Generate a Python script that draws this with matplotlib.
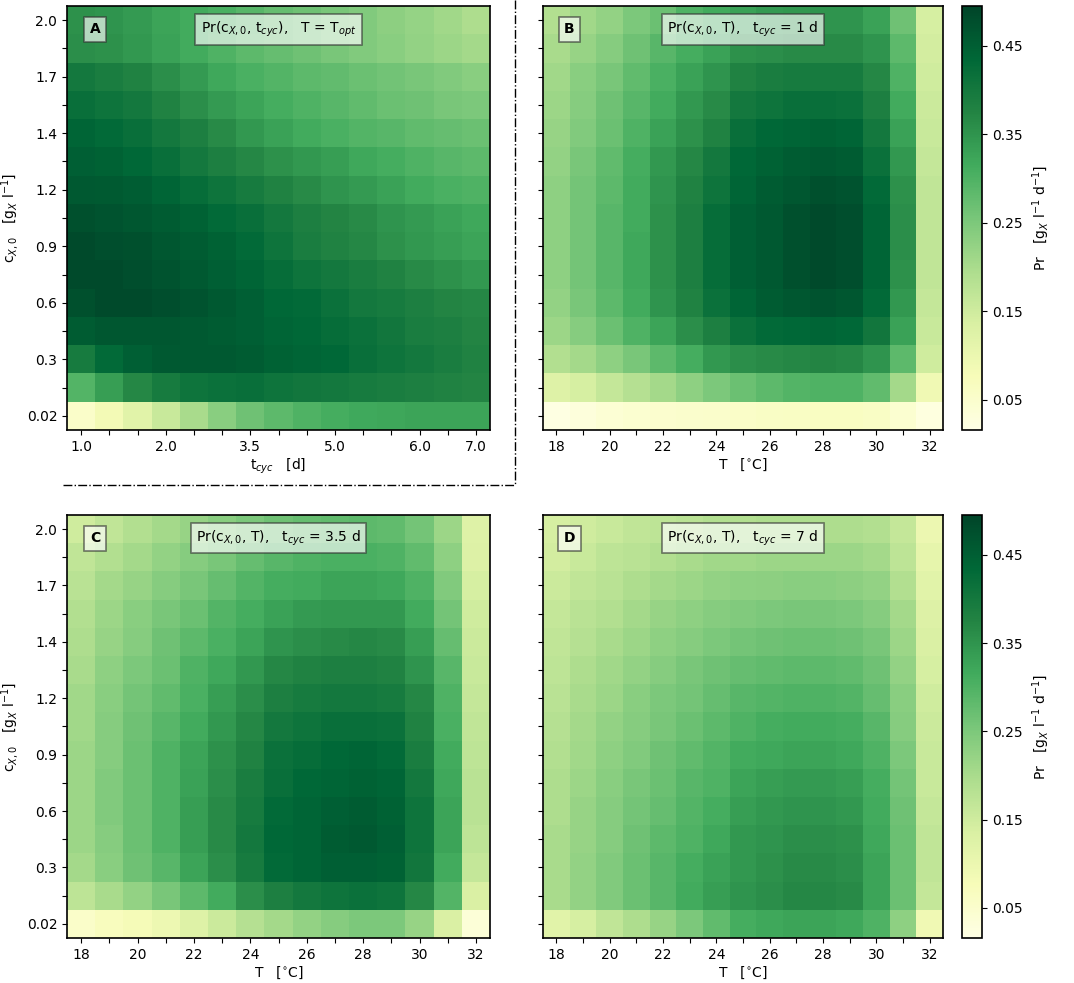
import matplotlib
matplotlib.use("Agg")
import matplotlib.pyplot as plt
import numpy as np
from matplotlib.lines import Line2D

# axis categories / tick labels
cx0_labels = ['0.02', '', '0.3', '', '0.6', '', '0.9', '', '1.2', '', '1.4', '', '1.7', '', '2.0']
tcyc_labels = ['1.0', '', '', '2.0', '', '', '3.5', '', '', '5.0', '', '', '6.0', '', '7.0']
temp_labels = ['18', '', '20', '', '22', '', '24', '', '26', '', '28', '', '30', '', '32']

# Pr values, rows = c_X,0 (bottom -> top), cols = t_cyc (A) or T (B, C, D)
pr_A = [
    [0.055, 0.085, 0.120, 0.160, 0.200, 0.235, 0.265, 0.285, 0.300, 0.310, 0.318, 0.322, 0.325, 0.325, 0.325],
    [0.295, 0.335, 0.370, 0.395, 0.410, 0.415, 0.420, 0.410, 0.405, 0.400, 0.395, 0.390, 0.385, 0.380, 0.375],
    [0.395, 0.430, 0.450, 0.460, 0.460, 0.460, 0.455, 0.445, 0.440, 0.435, 0.420, 0.410, 0.400, 0.390, 0.380],
    [0.455, 0.465, 0.465, 0.465, 0.460, 0.455, 0.450, 0.440, 0.435, 0.425, 0.415, 0.405, 0.390, 0.385, 0.375],
    [0.475, 0.485, 0.485, 0.480, 0.470, 0.460, 0.450, 0.435, 0.430, 0.415, 0.400, 0.395, 0.385, 0.375, 0.370],
    [0.485, 0.485, 0.480, 0.470, 0.460, 0.450, 0.440, 0.425, 0.410, 0.400, 0.390, 0.380, 0.365, 0.355, 0.345],
    [0.485, 0.480, 0.475, 0.465, 0.455, 0.445, 0.430, 0.410, 0.390, 0.380, 0.370, 0.355, 0.345, 0.335, 0.325],
    [0.475, 0.470, 0.465, 0.455, 0.445, 0.430, 0.420, 0.400, 0.385, 0.375, 0.365, 0.350, 0.340, 0.330, 0.320],
    [0.460, 0.458, 0.452, 0.440, 0.425, 0.410, 0.395, 0.380, 0.365, 0.350, 0.340, 0.330, 0.315, 0.305, 0.300],
    [0.450, 0.445, 0.435, 0.420, 0.400, 0.385, 0.370, 0.355, 0.345, 0.335, 0.320, 0.310, 0.300, 0.290, 0.285],
    [0.440, 0.430, 0.420, 0.400, 0.385, 0.365, 0.345, 0.330, 0.315, 0.305, 0.295, 0.290, 0.280, 0.275, 0.270],
    [0.420, 0.410, 0.400, 0.380, 0.360, 0.340, 0.325, 0.310, 0.300, 0.290, 0.280, 0.270, 0.265, 0.255, 0.250],
    [0.400, 0.390, 0.380, 0.360, 0.340, 0.320, 0.305, 0.295, 0.285, 0.278, 0.270, 0.262, 0.255, 0.245, 0.235],
    [0.360, 0.355, 0.345, 0.330, 0.315, 0.300, 0.285, 0.275, 0.265, 0.255, 0.245, 0.235, 0.225, 0.215, 0.205],
    [0.355, 0.350, 0.340, 0.325, 0.315, 0.305, 0.290, 0.275, 0.265, 0.255, 0.245, 0.233, 0.222, 0.210, 0.195],
]

pr_B = [
    [0.020, 0.030, 0.040, 0.045, 0.048, 0.050, 0.053, 0.056, 0.060, 0.062, 0.064, 0.064, 0.060, 0.045, 0.025],
    [0.125, 0.140, 0.165, 0.185, 0.205, 0.230, 0.250, 0.270, 0.285, 0.295, 0.300, 0.300, 0.280, 0.205, 0.090],
    [0.190, 0.205, 0.230, 0.255, 0.285, 0.310, 0.345, 0.360, 0.365, 0.370, 0.375, 0.370, 0.350, 0.285, 0.150],
    [0.215, 0.240, 0.270, 0.300, 0.325, 0.360, 0.385, 0.415, 0.430, 0.435, 0.440, 0.435, 0.405, 0.330, 0.160],
    [0.225, 0.255, 0.285, 0.315, 0.350, 0.380, 0.415, 0.440, 0.455, 0.465, 0.470, 0.465, 0.430, 0.345, 0.165],
    [0.230, 0.260, 0.290, 0.320, 0.355, 0.385, 0.425, 0.450, 0.460, 0.475, 0.485, 0.480, 0.440, 0.355, 0.170],
    [0.230, 0.260, 0.290, 0.320, 0.355, 0.385, 0.425, 0.450, 0.460, 0.475, 0.485, 0.480, 0.440, 0.360, 0.170],
    [0.230, 0.260, 0.290, 0.315, 0.355, 0.385, 0.425, 0.450, 0.460, 0.475, 0.485, 0.480, 0.440, 0.360, 0.170],
    [0.230, 0.260, 0.285, 0.315, 0.350, 0.380, 0.410, 0.440, 0.455, 0.465, 0.475, 0.470, 0.430, 0.355, 0.170],
    [0.225, 0.255, 0.280, 0.310, 0.345, 0.370, 0.400, 0.435, 0.445, 0.455, 0.460, 0.455, 0.415, 0.345, 0.165],
    [0.220, 0.245, 0.270, 0.300, 0.330, 0.355, 0.380, 0.420, 0.435, 0.440, 0.445, 0.440, 0.400, 0.330, 0.160],
    [0.215, 0.240, 0.265, 0.290, 0.315, 0.345, 0.365, 0.400, 0.410, 0.420, 0.420, 0.415, 0.385, 0.315, 0.155],
    [0.210, 0.235, 0.255, 0.280, 0.305, 0.330, 0.350, 0.380, 0.390, 0.395, 0.395, 0.395, 0.370, 0.300, 0.150],
    [0.200, 0.220, 0.240, 0.265, 0.290, 0.310, 0.330, 0.355, 0.360, 0.365, 0.365, 0.365, 0.350, 0.285, 0.145],
    [0.190, 0.210, 0.225, 0.250, 0.270, 0.300, 0.315, 0.330, 0.340, 0.345, 0.350, 0.350, 0.330, 0.265, 0.140],
]

pr_C = [
    [0.055, 0.070, 0.080, 0.095, 0.125, 0.155, 0.185, 0.205, 0.225, 0.240, 0.250, 0.250, 0.220, 0.135, 0.035],
    [0.175, 0.200, 0.225, 0.255, 0.285, 0.315, 0.360, 0.385, 0.400, 0.410, 0.415, 0.410, 0.370, 0.295, 0.135],
    [0.205, 0.235, 0.265, 0.290, 0.325, 0.360, 0.395, 0.430, 0.440, 0.450, 0.450, 0.445, 0.405, 0.315, 0.165],
    [0.215, 0.240, 0.270, 0.300, 0.335, 0.365, 0.400, 0.435, 0.440, 0.455, 0.460, 0.450, 0.410, 0.325, 0.175],
    [0.215, 0.245, 0.270, 0.300, 0.335, 0.365, 0.395, 0.430, 0.440, 0.450, 0.455, 0.445, 0.410, 0.325, 0.180],
    [0.215, 0.245, 0.270, 0.300, 0.330, 0.360, 0.390, 0.420, 0.435, 0.440, 0.445, 0.440, 0.400, 0.320, 0.180],
    [0.215, 0.240, 0.270, 0.300, 0.325, 0.355, 0.380, 0.415, 0.425, 0.435, 0.440, 0.430, 0.390, 0.315, 0.175],
    [0.210, 0.240, 0.265, 0.290, 0.315, 0.345, 0.370, 0.400, 0.410, 0.420, 0.420, 0.415, 0.380, 0.305, 0.170],
    [0.210, 0.235, 0.260, 0.280, 0.305, 0.335, 0.360, 0.385, 0.395, 0.400, 0.400, 0.395, 0.370, 0.300, 0.165],
    [0.200, 0.230, 0.250, 0.270, 0.300, 0.320, 0.345, 0.370, 0.380, 0.385, 0.385, 0.380, 0.350, 0.290, 0.160],
    [0.195, 0.220, 0.240, 0.265, 0.285, 0.305, 0.325, 0.350, 0.360, 0.365, 0.370, 0.365, 0.335, 0.275, 0.155],
    [0.190, 0.215, 0.235, 0.255, 0.270, 0.295, 0.310, 0.330, 0.340, 0.345, 0.345, 0.345, 0.315, 0.260, 0.150],
    [0.180, 0.205, 0.220, 0.240, 0.255, 0.275, 0.295, 0.310, 0.315, 0.325, 0.325, 0.320, 0.300, 0.245, 0.140],
    [0.170, 0.190, 0.205, 0.225, 0.240, 0.255, 0.275, 0.290, 0.300, 0.305, 0.305, 0.300, 0.280, 0.230, 0.130],
    [0.150, 0.170, 0.190, 0.205, 0.220, 0.235, 0.250, 0.265, 0.275, 0.280, 0.285, 0.280, 0.260, 0.215, 0.125],
]

pr_D = [
    [0.120, 0.140, 0.170, 0.195, 0.220, 0.250, 0.280, 0.310, 0.320, 0.325, 0.325, 0.320, 0.300, 0.230, 0.090],
    [0.200, 0.225, 0.245, 0.270, 0.290, 0.315, 0.335, 0.350, 0.360, 0.370, 0.370, 0.365, 0.325, 0.270, 0.165],
    [0.200, 0.225, 0.245, 0.270, 0.290, 0.310, 0.330, 0.345, 0.355, 0.365, 0.365, 0.360, 0.325, 0.270, 0.170],
    [0.200, 0.220, 0.240, 0.265, 0.285, 0.300, 0.320, 0.345, 0.350, 0.360, 0.360, 0.355, 0.320, 0.270, 0.170],
    [0.195, 0.220, 0.240, 0.260, 0.275, 0.295, 0.310, 0.335, 0.345, 0.350, 0.350, 0.345, 0.315, 0.265, 0.165],
    [0.195, 0.215, 0.235, 0.255, 0.270, 0.290, 0.300, 0.325, 0.335, 0.340, 0.340, 0.335, 0.310, 0.260, 0.160],
    [0.190, 0.210, 0.230, 0.245, 0.265, 0.280, 0.295, 0.315, 0.320, 0.325, 0.325, 0.320, 0.300, 0.250, 0.160],
    [0.185, 0.205, 0.225, 0.240, 0.255, 0.270, 0.285, 0.300, 0.310, 0.315, 0.315, 0.310, 0.290, 0.240, 0.155],
    [0.180, 0.200, 0.215, 0.235, 0.250, 0.260, 0.275, 0.290, 0.295, 0.300, 0.300, 0.295, 0.275, 0.235, 0.150],
    [0.175, 0.195, 0.210, 0.225, 0.240, 0.255, 0.265, 0.275, 0.280, 0.285, 0.285, 0.280, 0.265, 0.225, 0.140],
    [0.170, 0.185, 0.200, 0.215, 0.230, 0.240, 0.250, 0.260, 0.265, 0.270, 0.270, 0.265, 0.255, 0.215, 0.135],
    [0.165, 0.180, 0.190, 0.205, 0.220, 0.230, 0.240, 0.245, 0.250, 0.255, 0.255, 0.250, 0.240, 0.205, 0.130],
    [0.155, 0.170, 0.180, 0.195, 0.205, 0.215, 0.225, 0.230, 0.232, 0.235, 0.235, 0.232, 0.225, 0.190, 0.120],
    [0.145, 0.160, 0.175, 0.180, 0.190, 0.200, 0.210, 0.210, 0.215, 0.215, 0.215, 0.215, 0.205, 0.175, 0.110],
    [0.140, 0.150, 0.160, 0.170, 0.175, 0.180, 0.190, 0.190, 0.195, 0.195, 0.195, 0.195, 0.190, 0.165, 0.100],
]

VMIN, VMAX = 0.016, 0.495
CMAP = 'YlGn'
FS = 10

fig = plt.figure(figsize=(10.74, 9.83), dpi=100)

# axes positions in figure fractions
axA = fig.add_axes([0.0624, 0.5626, 0.3939, 0.4313])
axB = fig.add_axes([0.5056, 0.5626, 0.3724, 0.4313])
caxT = fig.add_axes([0.8957, 0.5626, 0.0186, 0.4313])
axC = fig.add_axes([0.0624, 0.0458, 0.3939, 0.4303])
axD = fig.add_axes([0.5056, 0.0458, 0.3724, 0.4303])
caxB = fig.add_axes([0.8957, 0.0458, 0.0186, 0.4303])

box_style = dict(boxstyle='square,pad=0.4', facecolor='white', alpha=0.65,
                 edgecolor='#333333', linewidth=1.2)

panels = [
    (axA, pr_A, tcyc_labels, r't$_{cyc}$   [d]', 'A',
     r'Pr(c$_{X,0}$, t$_{cyc}$),   T = T$_{opt}$', True),
    (axB, pr_B, temp_labels, r'T   [$^{\circ}$C]', 'B',
     r'Pr(c$_{X,0}$, T),   t$_{cyc}$ = 1 d', False),
    (axC, pr_C, temp_labels, r'T   [$^{\circ}$C]', 'C',
     r'Pr(c$_{X,0}$, T),   t$_{cyc}$ = 3.5 d', True),
    (axD, pr_D, temp_labels, r'T   [$^{\circ}$C]', 'D',
     r'Pr(c$_{X,0}$, T),   t$_{cyc}$ = 7 d', False),
]

meshes = []
for ax, data, xlabels, xlabel, tag, title, show_y in panels:
    Z = np.array(data)
    m = ax.pcolormesh(np.arange(Z.shape[1] + 1) - 0.5, np.arange(Z.shape[0] + 1) - 0.5, Z,
                      cmap=CMAP, vmin=VMIN, vmax=VMAX, shading='flat')
    meshes.append(m)
    ax.set_xticks(np.arange(len(xlabels)))
    ax.set_xticklabels(xlabels, fontsize=FS)
    ax.set_yticks(np.arange(len(cx0_labels)))
    if show_y:
        ax.set_yticklabels(cx0_labels, fontsize=FS)
        ax.set_ylabel(r'c$_{X,0}$   [g$_X$ l$^{-1}$]', fontsize=FS)
    else:
        ax.set_yticklabels([''] * len(cx0_labels))
    ax.set_xlabel(xlabel, fontsize=FS, labelpad=2)
    for sp in ax.spines.values():
        sp.set_linewidth(1.2)
    ax.text(0.066, 0.945, tag, transform=ax.transAxes, fontsize=FS, fontweight='bold',
            ha='center', va='center', bbox=box_style)
    ax.text(0.5, 0.945, title, transform=ax.transAxes, fontsize=FS,
            ha='center', va='center', bbox=box_style)

for cax, m in [(caxT, meshes[1]), (caxB, meshes[3])]:
    cb = fig.colorbar(m, cax=cax)
    cb.set_ticks([0.05, 0.15, 0.25, 0.35, 0.45])
    cb.ax.tick_params(labelsize=FS)
    cb.set_label(r'Pr   [g$_X$ l$^{-1}$ d$^{-1}$]', fontsize=FS, labelpad=6)
    cb.outline.set_linewidth(1.2)

# dash-dot frame around panel A
fig.add_artist(Line2D([0.4795, 0.4795], [1.0, 0.5066], transform=fig.transFigure,
                      color='black', linestyle='-.', linewidth=1.0))
fig.add_artist(Line2D([0.0587, 0.4795], [0.5066, 0.5066], transform=fig.transFigure,
                      color='black', linestyle='-.', linewidth=1.0))

fig.savefig('out.png', dpi=100)
